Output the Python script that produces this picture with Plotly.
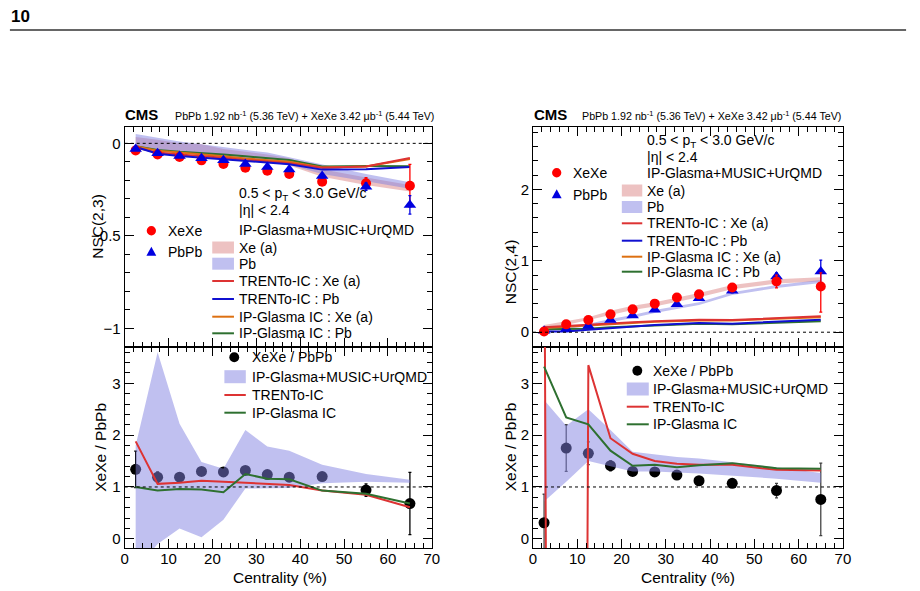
import plotly.graph_objects as go

# ---------------- data ----------------
cent = [2.5, 7.5, 12.5, 17.5, 22.5, 27.5, 32.5, 37.5, 45, 55, 65]

# NSC(2,3)
nsc23_xexe = [-0.038, -0.06, -0.074, -0.092, -0.112, -0.132, -0.148, -0.166, -0.207, -0.216, -0.229]
nsc23_xexe_err = [0.005, 0.005, 0.006, 0.006, 0.007, 0.008, 0.009, 0.01, 0.012, 0.03, 0.115]
nsc23_pbpb = [-0.03, -0.054, -0.068, -0.081, -0.092, -0.112, -0.128, -0.142, -0.177, -0.234, -0.333]
nsc23_pbpb_err = [0.004, 0.004, 0.005, 0.005, 0.005, 0.006, 0.007, 0.008, 0.01, 0.02, 0.05]
nsc23_xe_band_hi = [0.035, 0.02, 0.0, -0.005, -0.03, -0.045, -0.06, -0.08, -0.14, -0.185, -0.225]
nsc23_xe_band_lo = [-0.02, -0.035, -0.05, -0.055, -0.07, -0.085, -0.1, -0.12, -0.18, -0.225, -0.26]
nsc23_pb_band_hi = [0.05, 0.03, 0.01, -0.005, -0.02, -0.035, -0.05, -0.075, -0.115, -0.165, -0.21]
nsc23_pb_band_lo = [-0.02, -0.03, -0.045, -0.055, -0.07, -0.085, -0.095, -0.115, -0.165, -0.205, -0.245]
nsc23_trento_xe = [-0.022, -0.05, -0.06, -0.068, -0.078, -0.09, -0.097, -0.107, -0.132, -0.125, -0.079]
nsc23_trento_pb = [-0.02, -0.056, -0.068, -0.077, -0.086, -0.095, -0.103, -0.113, -0.142, -0.14, -0.128]
nsc23_ipg_xe = [-0.015, -0.04, -0.05, -0.058, -0.07, -0.082, -0.09, -0.1, -0.13, -0.125, -0.085]
nsc23_ipg_pb = [-0.015, -0.036, -0.046, -0.052, -0.06, -0.07, -0.078, -0.09, -0.125, -0.122, -0.124]

# NSC(2,4)
nsc24_xexe = [0.01, 0.11, 0.172, 0.25, 0.32, 0.40, 0.485, 0.53, 0.625, 0.71, 0.64]
nsc24_xexe_errp = [0.02, 0.02, 0.02, 0.025, 0.03, 0.03, 0.035, 0.04, 0.04, 0.09, 0.19]
nsc24_xexe_errm = [0.02, 0.02, 0.02, 0.025, 0.03, 0.03, 0.035, 0.04, 0.04, 0.09, 0.36]
nsc24_pbpb = [0.02, 0.045, 0.088, 0.172, 0.233, 0.313, 0.39, 0.475, 0.58, 0.78, 0.85]
nsc24_pbpb_err = [0.01, 0.01, 0.012, 0.015, 0.015, 0.02, 0.02, 0.025, 0.03, 0.05, 0.16]
nsc24_xe_band_hi = [0.1, 0.15, 0.21, 0.3, 0.37, 0.42, 0.48, 0.55, 0.66, 0.74, 0.77]
nsc24_xe_band_lo = [0.05, 0.1, 0.16, 0.24, 0.31, 0.36, 0.42, 0.49, 0.6, 0.68, 0.71]
nsc24_pb_band_hi = [0.04, 0.075, 0.12, 0.185, 0.24, 0.31, 0.37, 0.42, 0.56, 0.66, 0.73]
nsc24_pb_band_lo = [0.01, 0.045, 0.085, 0.145, 0.2, 0.27, 0.33, 0.38, 0.52, 0.62, 0.69]
nsc24_trento_xe = [0.07, 0.09, 0.11, 0.125, 0.14, 0.155, 0.165, 0.175, 0.17, 0.2, 0.225]
nsc24_trento_pb = [0.01, 0.01, 0.035, 0.06, 0.08, 0.1, 0.115, 0.13, 0.12, 0.15, 0.175]
nsc24_ipg_xe = [0.06, 0.08, 0.1, 0.115, 0.13, 0.145, 0.155, 0.165, 0.165, 0.19, 0.21]
nsc24_ipg_pb = [0.04, 0.04, 0.05, 0.07, 0.085, 0.1, 0.11, 0.12, 0.11, 0.135, 0.155]

# ratios XeXe / PbPb
r23 = [1.34, 1.19, 1.19, 1.30, 1.29, 1.32, 1.24, 1.19, 1.2, 0.94, 0.68]
r23_err = [0.35, 0.1, 0.05, 0.05, 0.05, 0.05, 0.04, 0.04, 0.04, 0.12, 0.6]
r23_band_hi = [1.8, 3.6, 2.22, 1.48, 1.35, 2.1, 1.78, 1.7, 1.43, 1.25, 1.14]
r23_band_lo = [-0.6, -0.1, 0.2, 0.03, 0.37, 0.97, 0.97, 0.98, 1.07, 1.1, 1.08]
r23_trento = [1.88, 1.06, 1.08, 1.12, 1.1, 1.08, 1.05, 1.04, 0.93, 0.85, 0.61]
r23_ipg = [1.0, 0.93, 0.96, 0.95, 0.9, 1.25, 1.16, 1.15, 0.93, 0.87, 0.68]

r24 = [0.31, 1.75, 1.65, 1.41, 1.30, 1.29, 1.23, 1.12, 1.07, 0.93, 0.76]
r24_err = [0.55, 0.45, 0.22, 0.1, 0.05, 0.05, 0.04, 0.04, 0.04, 0.14, 0.7]
r24_band_hi = [2.68, 2.18, 2.5, 2.1, 1.68, 1.63, 1.58, 1.55, 1.48, 1.38, 1.27]
r24_band_lo = [0.72, 1.1, 1.5, 1.4, 1.3, 1.3, 1.28, 1.26, 1.22, 1.16, 1.08]
r24_trento = [7.2, -85, 3.35, 1.94, 1.64, 1.5, 1.45, 1.43, 1.43, 1.33, 1.32]
r24_ipg = [3.32, 2.34, 2.21, 1.7, 1.41, 1.43, 1.38, 1.42, 1.46, 1.36, 1.35]

# ---------------- style ----------------
FONT = "Liberation Sans, Arial, Helvetica, sans-serif"
C_RED_M = "#FF0000"
C_BLUE_M = "#0000E0"
C_RED = "#DD3333"
C_BLUE = "#1010D0"
C_ORANGE = "#DD7011"
C_GREEN = "#2E7030"
C_PINK_BAND = "rgba(215,120,120,0.45)"
C_BLUE_BAND = "rgba(130,130,225,0.5)"
W, H = 920, 591


def PX(x):
    return x / W


def PY(y):
    return 1 - y / H


fig = go.Figure()


def band(x, hi, lo, color, xa, ya):
    fig.add_trace(go.Scatter(x=list(x) + list(x)[::-1], y=list(hi) + list(lo)[::-1],
                             fill="toself", fillcolor=color, line=dict(width=0),
                             mode="lines", hoverinfo="skip", showlegend=False,
                             xaxis=xa, yaxis=ya))


def line(x, y, color, xa, ya):
    fig.add_trace(go.Scatter(x=x, y=y, mode="lines", line=dict(color=color, width=2),
                             showlegend=False, xaxis=xa, yaxis=ya))


def points(x, y, errp, errm, color, symbol, size, xa, ya, ecolor=None):
    fig.add_trace(go.Scatter(x=x, y=y, mode="markers",
                             marker=dict(color=color, symbol=symbol, size=size),
                             error_y=dict(type="data", array=errp, arrayminus=errm,
                                          color=ecolor or color, thickness=1.3, width=1.5),
                             showlegend=False, xaxis=xa, yaxis=ya))


# top-left NSC(2,3)
band(cent, nsc23_xe_band_hi, nsc23_xe_band_lo, C_PINK_BAND, "x", "y")
band(cent, nsc23_pb_band_hi, nsc23_pb_band_lo, C_BLUE_BAND, "x", "y")
line(cent, nsc23_ipg_pb, C_GREEN, "x", "y")
line(cent, nsc23_ipg_xe, C_ORANGE, "x", "y")
line(cent, nsc23_trento_xe, C_RED, "x", "y")
line(cent, nsc23_trento_pb, C_BLUE, "x", "y")
points(cent, nsc23_xexe, nsc23_xexe_err, nsc23_xexe_err, C_RED_M, "circle", 10, "x", "y")
points(cent, nsc23_pbpb, nsc23_pbpb_err, nsc23_pbpb_err, C_BLUE_M, "triangle-up", 11, "x", "y")

# bottom-left ratio
points(cent, r23, r23_err, r23_err, "black", "circle", 11, "x2", "y2")
band(cent, r23_band_hi, r23_band_lo, C_BLUE_BAND, "x2", "y2")
line(cent, r23_trento, C_RED, "x2", "y2")
line(cent, r23_ipg, C_GREEN, "x2", "y2")

# top-right NSC(2,4)
band(cent, nsc24_xe_band_hi, nsc24_xe_band_lo, C_PINK_BAND, "x3", "y3")
band(cent, nsc24_pb_band_hi, nsc24_pb_band_lo, C_BLUE_BAND, "x3", "y3")
line(cent, nsc24_ipg_pb, C_GREEN, "x3", "y3")
line(cent, nsc24_trento_pb, C_BLUE, "x3", "y3")
line(cent, nsc24_ipg_xe, C_ORANGE, "x3", "y3")
line(cent, nsc24_trento_xe, C_RED, "x3", "y3")
points(cent, nsc24_pbpb, nsc24_pbpb_err, nsc24_pbpb_err, C_BLUE_M, "triangle-up", 11, "x3", "y3")
points(cent, nsc24_xexe, nsc24_xexe_errp, nsc24_xexe_errm, C_RED_M, "circle", 10, "x3", "y3")

# bottom-right ratio
points(cent, r24, r24_err, r24_err, "black", "circle", 11, "x4", "y4", ecolor="#444444")
band(cent, r24_band_hi, r24_band_lo, C_BLUE_BAND, "x4", "y4")
line(cent, r24_trento, C_RED, "x4", "y4")
line(cent, r24_ipg, C_GREEN, "x4", "y4")

# ---------------- axes ----------------
LEFT = [PX(122.3), PX(433.5)]
RIGHT = [PX(536), PX(850)]
TOP = [PY(346.5), PY(126.7)]
BOT = [PY(548.3), PY(346.5)]


def xax(domain, anchor, labels):
    return dict(domain=domain, anchor=anchor, range=[0, 70], showline=True,
                linecolor="black", linewidth=1, mirror="allticks", ticks="inside",
                ticklen=9, tickwidth=1, tickcolor="black", tick0=0, dtick=10,
                minor=dict(dtick=2, ticks="inside", ticklen=5, tickwidth=1, tickcolor="black"),
                showgrid=False, zeroline=False, showticklabels=labels,
                ticklabelstandoff=-3,
                tickfont=dict(family=FONT, size=15, color="black"))


def yax(domain, anchor, rng, dtick, mdtick):
    return dict(domain=domain, anchor=anchor, range=rng, showline=True,
                linecolor="black", linewidth=1, mirror="allticks", ticks="inside",
                ticklen=9, tickwidth=1, tickcolor="black", tick0=0, dtick=dtick,
                minor=dict(dtick=mdtick, ticks="inside", ticklen=5, tickwidth=1, tickcolor="black"),
                showgrid=False, zeroline=False,
                tickfont=dict(family=FONT, size=15, color="black"))


fig.update_layout(
    width=W, height=H, margin=dict(l=0, r=0, t=0, b=0),
    paper_bgcolor="white", plot_bgcolor="white", showlegend=False,
    font=dict(family=FONT, color="black"),
    xaxis=xax(LEFT, "y", False), yaxis=yax(TOP, "x", [-1.098, 0.09], 0.5, 0.1),
    xaxis2=xax(LEFT, "y2", True), yaxis2=yax(BOT, "x2", [-0.183, 3.71], 1, 0.2),
    xaxis3=xax(RIGHT, "y3", False), yaxis3=yax(TOP, "x3", [-0.2, 2.876], 1, 0.2),
    xaxis4=xax(RIGHT, "y4", True), yaxis4=yax(BOT, "x4", [-0.183, 3.71], 1, 0.2),
)

shapes = []
annots = []

# dotted reference lines
for xr, yr, yv in [("x", "y", 0), ("x2", "y2", 1), ("x3", "y3", 0), ("x4", "y4", 1)]:
    shapes.append(dict(type="line", xref=xr + " domain", yref=yr, x0=0, x1=1, y0=yv, y1=yv,
                       line=dict(color="black", width=1, dash="dot"), layer="above"))

# page header
annots.append(dict(text="<b>10</b>", x=PX(5), y=PY(16), xref="paper", yref="paper",
                   xanchor="left", yanchor="middle", showarrow=False,
                   font=dict(family=FONT, size=17, color="black")))
shapes.append(dict(type="line", xref="paper", yref="paper", x0=PX(6), x1=PX(914),
                   y0=PY(30), y1=PY(30), line=dict(color="#333333", width=1.5)))


def text(t, x, y, size=14, anchor="left", angle=0, yanchor="middle"):
    annots.append(dict(text=t, x=PX(x), y=PY(y), xref="paper", yref="paper",
                       xanchor=anchor, yanchor=yanchor, showarrow=False, textangle=angle,
                       font=dict(family=FONT, size=size, color="black")))


hdr = "PbPb 1.92 nb<sup>-1</sup> (5.36 TeV) + XeXe 3.42 μb<sup>-1</sup> (5.44 TeV)"
for x0, xt in [(121, 171), (535, 584)]:
    text("<b>CMS</b>", x0, 114, size=15)
    text(hdr, xt, 115, size=10.7)

# axis titles
text("NSC(2,3)", 94, 226, size=15.5, anchor="center", angle=-90)
text("XeXe / PbPb", 97, 447, size=15.5, anchor="center", angle=-90)
text("NSC(2,4)", 513, 272, size=15.5, anchor="center", angle=-90)
text("XeXe / PbPb", 513, 447, size=15.5, anchor="center", angle=-90)
text("Centrality (%)", 280, 577, size=15.5, anchor="center")
text("Centrality (%)", 693, 577, size=15.5, anchor="center")

PT = "0.5 &lt; p<sub>T</sub> &lt; 3.0 GeV/c"
ETA = "|η| &lt; 2.4"


def leg_circle(x, y, color, r=4.7):
    shapes.append(dict(type="circle", xref="paper", yref="paper",
                       x0=PX(x - r), x1=PX(x + r), y0=PY(y + r), y1=PY(y - r),
                       fillcolor=color, line=dict(width=0)))


def leg_tri(x, y, color, r=5):
    path = "M {:.5f},{:.5f} L {:.5f},{:.5f} L {:.5f},{:.5f} Z".format(
        PX(x - r), PY(y + r * 0.8), PX(x + r), PY(y + r * 0.8), PX(x), PY(y - r))
    shapes.append(dict(type="path", xref="paper", yref="paper", path=path,
                       fillcolor=color, line=dict(width=0)))


def leg_rect(x0, x1, y, color, h=12):
    shapes.append(dict(type="rect", xref="paper", yref="paper",
                       x0=PX(x0), x1=PX(x1), y0=PY(y + h / 2), y1=PY(y - h / 2),
                       fillcolor=color, line=dict(width=0)))


def leg_line(x0, x1, y, color):
    shapes.append(dict(type="line", xref="paper", yref="paper",
                       x0=PX(x0), x1=PX(x1), y0=PY(y), y1=PY(y),
                       line=dict(color=color, width=2)))


# top-left legend
text(PT, 236, 194)
text(ETA, 236, 210)
leg_circle(149.3, 230.7, C_RED_M)
text("XeXe", 164, 231)
leg_tri(149.3, 251.7, C_BLUE_M)
text("PbPb", 164, 252)
text("IP-Glasma+MUSIC+UrQMD", 236, 230)
leg_rect(211, 233, 247.5, C_PINK_BAND)
text("Xe (a)", 236, 247.5)
leg_rect(211, 233, 263.7, C_BLUE_BAND)
text("Pb", 236, 263.7)
for yy, col, lab in [(281, C_RED, "TRENTo-IC : Xe (a)"), (299, C_BLUE, "TRENTo-IC : Pb"),
                     (316.7, C_ORANGE, "IP-Glasma IC : Xe (a)"), (333.3, C_GREEN, "IP-Glasma IC : Pb")]:
    leg_line(211, 233, yy, col)
    text(lab, 236, yy)

# top-right legend
text(PT, 649, 141)
text(ETA, 649, 157.3)
text("IP-Glasma+MUSIC+UrQMD", 649, 172.7)
leg_circle(560, 172.7, C_RED_M)
text("XeXe", 574, 173)
leg_tri(560, 194.3, C_BLUE_M)
text("PbPb", 574, 194.5)
leg_rect(626, 646.7, 190.5, C_PINK_BAND)
text("Xe (a)", 649, 190.5)
leg_rect(626, 646.7, 207, C_BLUE_BAND)
text("Pb", 649, 207)
for yy, col, lab in [(223.3, C_RED, "TRENTo-IC : Xe (a)"), (240.7, C_BLUE, "TRENTo-IC : Pb"),
                     (256.7, C_ORANGE, "IP-Glasma IC : Xe (a)"), (271.7, C_GREEN, "IP-Glasma IC : Pb")]:
    leg_line(626, 646.7, yy, col)
    text(lab, 649, yy)

# bottom-left legend
leg_circle(233.3, 357.3, "black", r=5)
text("XeXe / PbPb", 249, 357.3)
leg_rect(223.3, 245, 376.7, C_BLUE_BAND, h=13)
text("IP-Glasma+MUSIC+UrQMD", 249, 376.7)
leg_line(223.3, 245, 395, C_RED)
text("TRENTo-IC", 249, 395)
leg_line(223.3, 245, 412.7, C_GREEN)
text("IP-Glasma IC", 249, 412.7)

# bottom-right legend
leg_circle(641.7, 370.7, "black", r=5)
text("XeXe / PbPb", 656, 370.7)
leg_rect(631, 653.3, 389, C_BLUE_BAND, h=13)
text("IP-Glasma+MUSIC+UrQMD", 656, 389)
leg_line(631, 653.3, 406.7, C_RED)
text("TRENTo-IC", 656, 406.7)
leg_line(631, 653.3, 424.3, C_GREEN)
text("IP-Glasma IC", 656, 424.3)

fig.update_layout(shapes=shapes, annotations=annots)
fig.write_html("out.html")
